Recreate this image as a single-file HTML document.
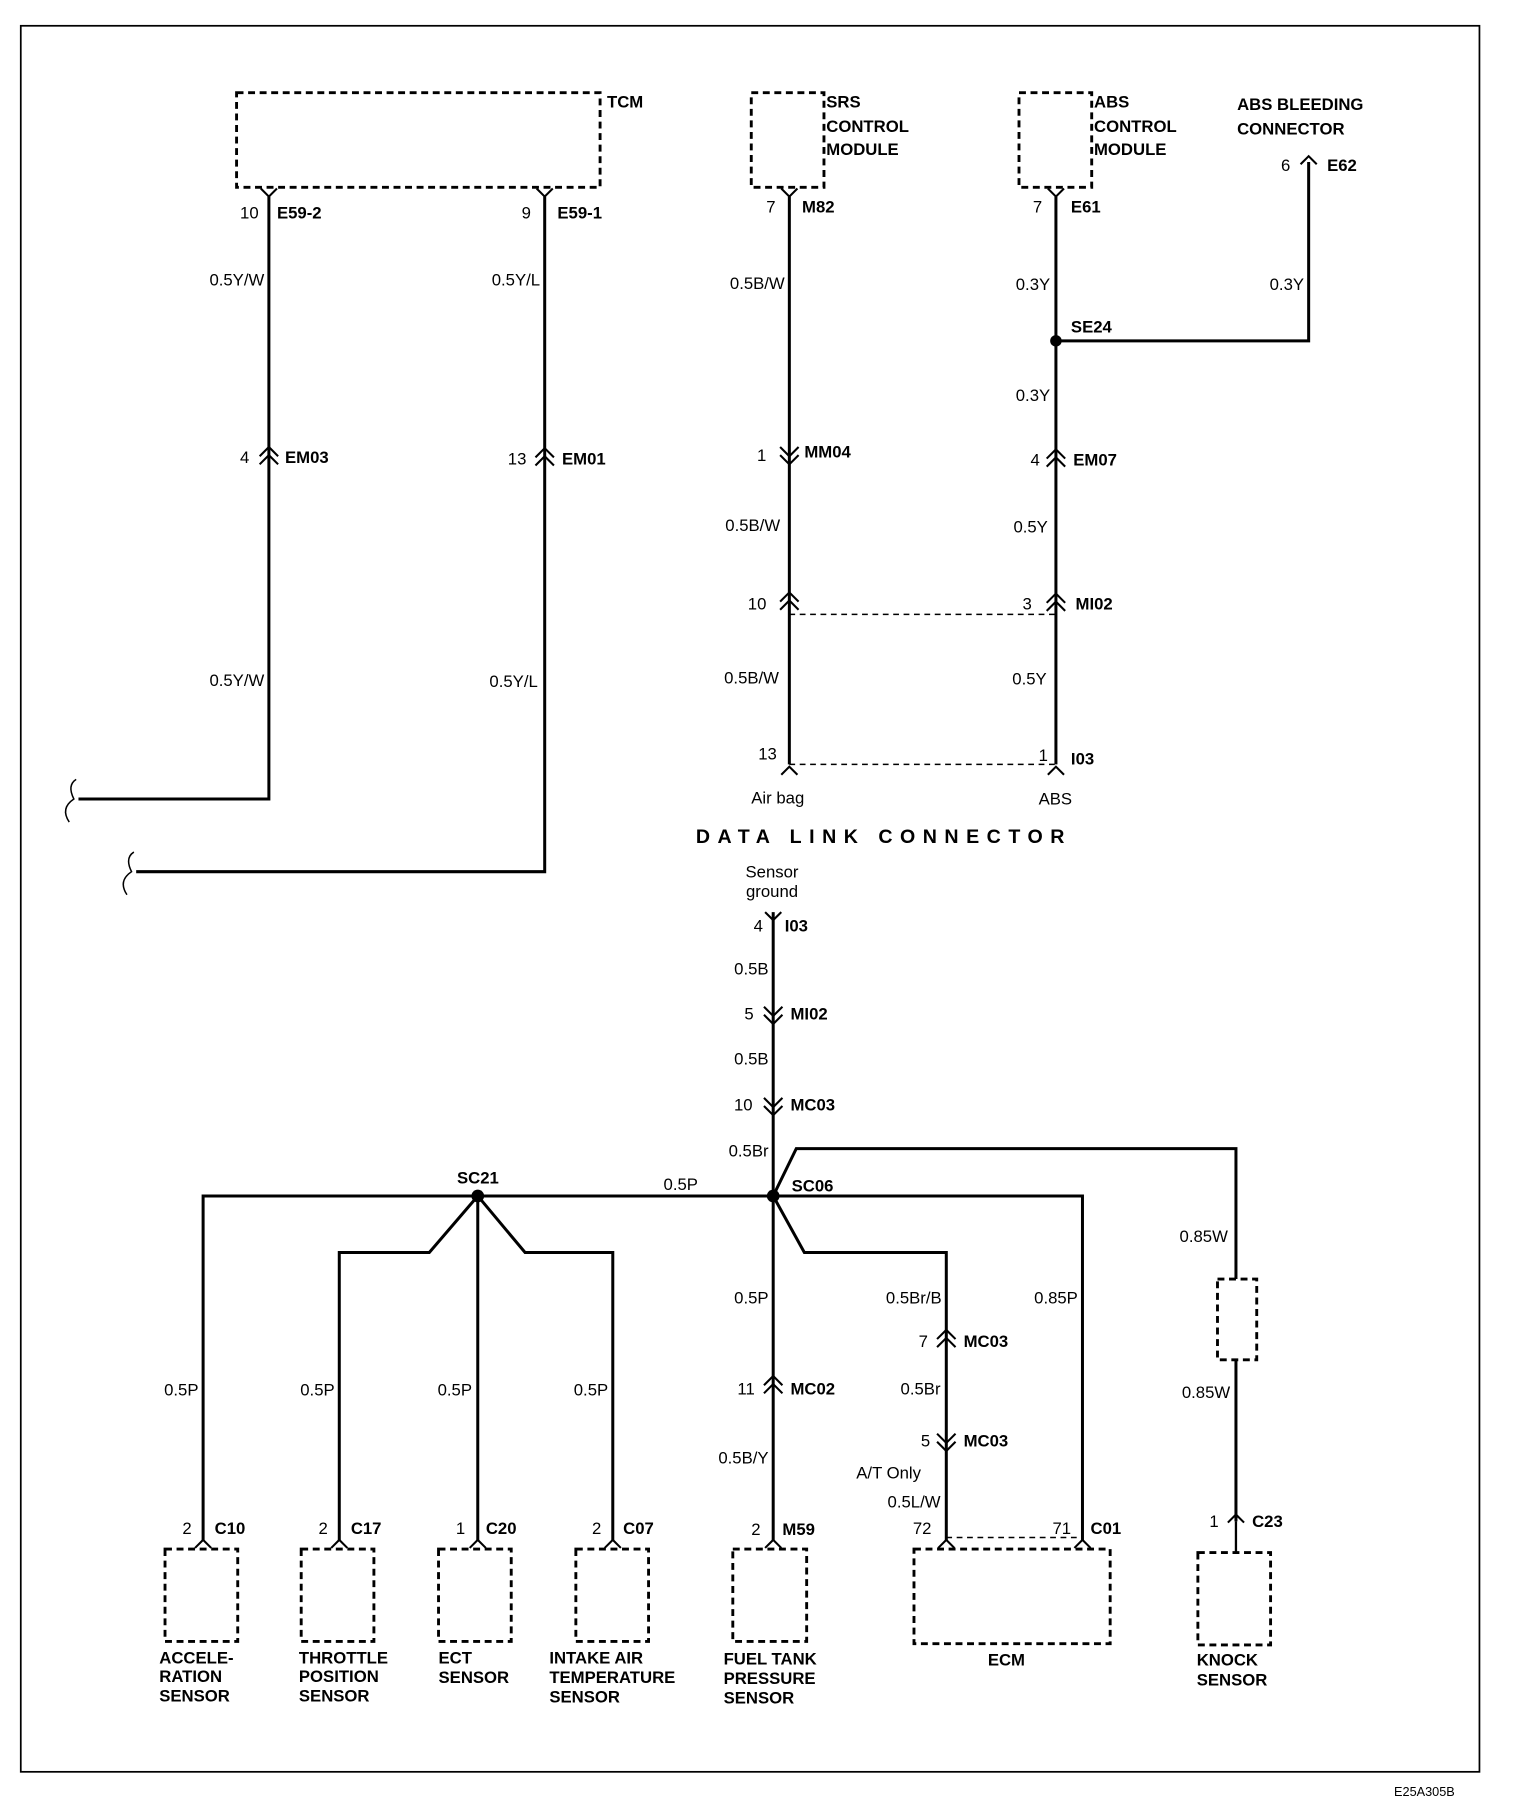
<!DOCTYPE html>
<html><head><meta charset="utf-8"><style>
html,body{margin:0;padding:0;background:#fff;}
svg{display:block;}
text{font-family:"Liberation Sans",sans-serif;font-size:14.5px;fill:#000;}
.b{font-weight:bold;}
</style></head><body>
<svg width="1536" height="1808" viewBox="0 0 1331 1566" xmlns="http://www.w3.org/2000/svg">
<defs>
<path id="u2" d="M-8,6 L0,-2 L8,6 M-8,13 L0,5 L8,13" fill="none" stroke="#000" stroke-width="1.8"/>
<path id="d2" d="M-8,-6 L0,2 L8,-6 M-8,-13 L0,-5 L8,-13" fill="none" stroke="#000" stroke-width="1.8"/>
<path id="u1" d="M-7,7 L0,0 L7,7" fill="none" stroke="#000" stroke-width="1.8"/>
<path id="v1" d="M-7,-7 L0,0 L7,-7" fill="none" stroke="#000" stroke-width="1.8"/>
</defs>
<rect width="1331" height="1566" fill="#fff"/>
<rect x="18" y="22" width="1264" height="1513" fill="none" stroke="#000" stroke-width="1.5"/>
<text x="1208" y="1556" style="font-size:11px">E25A305B</text>

<g fill="none" stroke="#000" stroke-width="2.5" stroke-dasharray="6,4">
<rect x="205" y="80" width="315" height="82"/>
<rect x="651" y="80" width="63" height="82"/>
<rect x="883" y="80" width="63" height="82"/>
<rect x="1055" y="1108" width="34" height="70"/>
<rect x="143" y="1342" width="63" height="80"/>
<rect x="261" y="1342" width="63" height="80"/>
<rect x="380" y="1342" width="63" height="80"/>
<rect x="499" y="1342" width="63" height="80"/>
<rect x="635" y="1342" width="64" height="80"/>
<rect x="792" y="1342" width="170" height="82"/>
<rect x="1038" y="1345" width="63" height="80"/>
</g>
<g fill="none" stroke="#000" stroke-width="1.3" stroke-dasharray="5,4">
<path d="M684,532 H915 M684,662 H915 M820,1332 H938"/>
</g>

<g fill="none" stroke="#000" stroke-width="2.6">
<path d="M233,170 V692 H68"/>
<path d="M472,170 V755 H118"/>
<path d="M684,170 V662"/>
<path d="M915,170 V662"/>
<path d="M915,295 H1134 V140"/>
<path d="M670,790 V1335"/>
<path d="M670,1036 L690,995 H1071 V1108 M1071,1178 V1318"/>
<path d="M1071,1318 V1345" stroke-width="2"/>
<path d="M176,1335 V1036 H938 V1335"/>
<path d="M414,1036 V1335 M414,1036 L372,1085 H294 V1335 M414,1036 L455,1085 H531 V1335"/>
<path d="M670,1036 L697,1085 H820 V1335"/>
<path d="M66,675 Q58,680 64,692 Q52,700 60,712" stroke-width="1.3"/>
<path d="M116,738 Q108,743 114,755 Q102,763 110,775" stroke-width="1.3"/>
</g>
<circle cx="915" cy="295" r="5"/>
<circle cx="670" cy="1036" r="5.5"/>
<circle cx="414" cy="1036" r="5.5"/>

<use href="#v1" x="233" y="170"/><use href="#v1" x="472" y="170"/>
<use href="#v1" x="684" y="170"/><use href="#v1" x="915" y="170"/>
<use href="#u1" x="1134" y="135"/>
<use href="#u2" x="233" y="389"/><use href="#u2" x="472" y="390"/>
<use href="#d2" x="684" y="400"/><use href="#u2" x="915" y="391"/>
<use href="#u2" x="684" y="515"/><use href="#u2" x="915" y="516"/>
<use href="#u1" x="684" y="664"/><use href="#u1" x="915" y="664"/>
<use href="#v1" x="670" y="797"/>
<use href="#d2" x="670" y="885"/><use href="#d2" x="670" y="964"/>
<use href="#u2" x="670" y="1194"/>
<use href="#u2" x="820" y="1154"/><use href="#d2" x="820" y="1255"/>
<use href="#u1" x="1071" y="1312"/>
<use href="#u1" x="176" y="1334"/><use href="#u1" x="294" y="1334"/>
<use href="#u1" x="414" y="1334"/><use href="#u1" x="531" y="1334"/>
<use href="#u1" x="670" y="1334"/><use href="#u1" x="820" y="1334"/>
<use href="#u1" x="938" y="1334"/>

<text x="526" y="93" class="b">TCM</text>
<text x="716" y="93" class="b">SRS</text><text x="716" y="114" class="b">CONTROL</text><text x="716" y="134" class="b">MODULE</text>
<text x="948" y="93" class="b">ABS</text><text x="948" y="114" class="b">CONTROL</text><text x="948" y="134" class="b">MODULE</text>
<text x="1072" y="95" class="b">ABS BLEEDING</text><text x="1072" y="116" class="b">CONNECTOR</text>
<text x="1110" y="148">6</text><text x="1150" y="148" class="b">E62</text>

<text x="208" y="189">10</text><text x="240" y="189" class="b">E59-2</text>
<text x="452" y="189">9</text><text x="483" y="189" class="b">E59-1</text>
<text x="664" y="184">7</text><text x="695" y="184" class="b">M82</text>
<text x="895" y="184">7</text><text x="928" y="184" class="b">E61</text>

<text x="229" y="247" text-anchor="end">0.5Y/W</text>
<text x="468" y="247" text-anchor="end">0.5Y/L</text>
<text x="680" y="250" text-anchor="end">0.5B/W</text>
<text x="910" y="251" text-anchor="end">0.3Y</text>
<text x="1130" y="251" text-anchor="end">0.3Y</text>
<text x="928" y="288" class="b">SE24</text>
<text x="910" y="347" text-anchor="end">0.3Y</text>

<text x="208" y="401">4</text><text x="247" y="401" class="b">EM03</text>
<text x="440" y="402">13</text><text x="487" y="402" class="b">EM01</text>
<text x="656" y="399">1</text><text x="697" y="396" class="b">MM04</text>
<text x="893" y="403">4</text><text x="930" y="403" class="b">EM07</text>

<text x="676" y="460" text-anchor="end">0.5B/W</text>
<text x="908" y="461" text-anchor="end">0.5Y</text>
<text x="648" y="528">10</text>
<text x="886" y="528">3</text><text x="932" y="528" class="b">MI02</text>
<text x="229" y="594" text-anchor="end">0.5Y/W</text>
<text x="466" y="595" text-anchor="end">0.5Y/L</text>
<text x="675" y="592" text-anchor="end">0.5B/W</text>
<text x="907" y="593" text-anchor="end">0.5Y</text>
<text x="657" y="658">13</text>
<text x="900" y="659">1</text><text x="928" y="662" class="b">I03</text>
<text x="651" y="696">Air bag</text>
<text x="900" y="697">ABS</text>
<text x="603" y="730" class="b" style="font-size:17px;letter-spacing:6.5px">DATA  LINK  CONNECTOR</text>
<text x="669" y="760" text-anchor="middle">Sensor</text>
<text x="669" y="777" text-anchor="middle">ground</text>

<text x="653" y="807">4</text><text x="680" y="807" class="b">I03</text>
<text x="666" y="844" text-anchor="end">0.5B</text>
<text x="645" y="883">5</text><text x="685" y="883" class="b">MI02</text>
<text x="666" y="922" text-anchor="end">0.5B</text>
<text x="636" y="962">10</text><text x="685" y="962" class="b">MC03</text>
<text x="666" y="1002" text-anchor="end">0.5Br</text>
<text x="396" y="1025" class="b">SC21</text>
<text x="575" y="1031">0.5P</text>
<text x="686" y="1032" class="b">SC06</text>
<text x="1064" y="1076" text-anchor="end">0.85W</text>
<text x="666" y="1129" text-anchor="end">0.5P</text>
<text x="816" y="1129" text-anchor="end">0.5Br/B</text>
<text x="934" y="1129" text-anchor="end">0.85P</text>
<text x="796" y="1167">7</text><text x="835" y="1167" class="b">MC03</text>
<text x="639" y="1208">11</text><text x="685" y="1208" class="b">MC02</text>
<text x="815" y="1208" text-anchor="end">0.5Br</text>
<text x="1066" y="1211" text-anchor="end">0.85W</text>
<text x="172" y="1209" text-anchor="end">0.5P</text>
<text x="290" y="1209" text-anchor="end">0.5P</text>
<text x="409" y="1209" text-anchor="end">0.5P</text>
<text x="527" y="1209" text-anchor="end">0.5P</text>
<text x="798" y="1253">5</text><text x="835" y="1253" class="b">MC03</text>
<text x="666" y="1268" text-anchor="end">0.5B/Y</text>
<text x="742" y="1281">A/T Only</text>
<text x="815" y="1306" text-anchor="end">0.5L/W</text>

<text x="158" y="1329">2</text><text x="186" y="1329" class="b">C10</text>
<text x="276" y="1329">2</text><text x="304" y="1329" class="b">C17</text>
<text x="395" y="1329">1</text><text x="421" y="1329" class="b">C20</text>
<text x="513" y="1329">2</text><text x="540" y="1329" class="b">C07</text>
<text x="651" y="1330">2</text><text x="678" y="1330" class="b">M59</text>
<text x="791" y="1329">72</text>
<text x="912" y="1329">71</text><text x="945" y="1329" class="b">C01</text>
<text x="1048" y="1323">1</text><text x="1085" y="1323" class="b">C23</text>

<text x="138" y="1441" class="b">ACCELE-</text><text x="138" y="1457" class="b">RATION</text><text x="138" y="1474" class="b">SENSOR</text>
<text x="259" y="1441" class="b">THROTTLE</text><text x="259" y="1457" class="b">POSITION</text><text x="259" y="1474" class="b">SENSOR</text>
<text x="380" y="1441" class="b">ECT</text><text x="380" y="1458" class="b">SENSOR</text>
<text x="476" y="1441" class="b">INTAKE AIR</text><text x="476" y="1458" class="b">TEMPERATURE</text><text x="476" y="1475" class="b">SENSOR</text>
<text x="627" y="1442" class="b">FUEL TANK</text><text x="627" y="1459" class="b">PRESSURE</text><text x="627" y="1476" class="b">SENSOR</text>
<text x="856" y="1443" class="b">ECM</text>
<text x="1037" y="1443" class="b">KNOCK</text><text x="1037" y="1460" class="b">SENSOR</text>
</svg>
</body></html>
